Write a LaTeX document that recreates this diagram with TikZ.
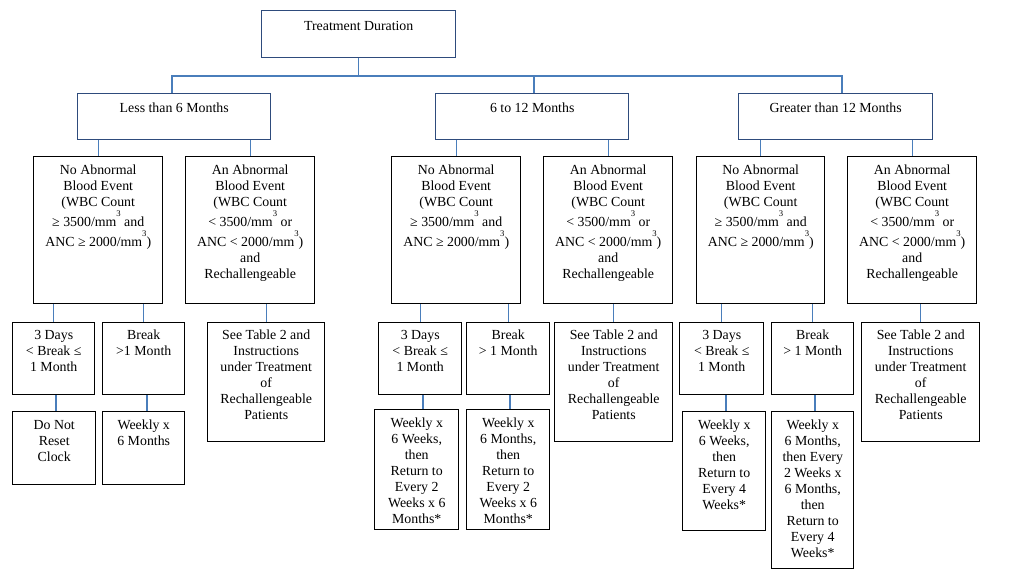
\documentclass[tikz,border=0pt]{standalone}
\usepackage{fontspec}
\setmainfont{Liberation Serif}
\newdimen\pxu \pxu=0.75pt
% box text: [first baseline]{width px}{height px}{text}
\newcommand\bt[4][13.1pt]{\parbox[c][#3\pxu][t]{#2\pxu}{\centering\fontsize{10.4}{12}\selectfont\rule{0pt}{#1}#4\par}}
\newcommand\cube{\smash{\raisebox{7.3pt}{\fontsize{6.5}{6.5}\selectfont 3}}}
\definecolor{navy}{HTML}{2E4B7C}
\definecolor{linkblue}{HTML}{4A7EBB}
\tikzset{
  headbox/.style={draw=navy, line width=1.1pt, inner sep=0pt, anchor=north west},
  leafbox/.style={draw=black, line width=1.1pt, inner sep=0pt, anchor=north west},
  conn/.style={draw=linkblue, line width=1pt}
}
\begin{document}
\begin{tikzpicture}[x=0.75pt,y=-0.75pt]
\useasboundingbox (0,0) rectangle (1015,580);
% level 1 and 2
\node[headbox] (top) at (261,10) {\bt[14.6pt]{194}{47}{Treatment Duration}};
\node[headbox] (L1) at (77,93) {\bt[13.9pt]{193}{46}{Less than 6 Months}};
\node[headbox] (L2) at (435,93) {\bt[13.9pt]{193}{46}{6 to 12 Months}};
\node[headbox] (L3) at (738,93) {\bt[13.9pt]{194}{46}{Greater than 12 Months}};
% level 3
\node[leafbox] (NA1) at (33,156) {\bt{129}{147}{No Abnormal\\Blood Event\\(WBC Count\\[3pt] ≥ 3500/mm\cube{} and\\[3pt] ANC ≥ 2000/mm\cube)}};
\node[leafbox] (AA1) at (185,156) {\bt{129}{147}{An Abnormal\\Blood Event\\(WBC Count\\[3pt] < 3500/mm\cube{} or\\[3pt] ANC < 2000/mm\cube)\\and\\Rechallengeable}};
\node[leafbox] (NA2) at (391,156) {\bt{129}{147}{No Abnormal\\Blood Event\\(WBC Count\\[3pt] ≥ 3500/mm\cube{} and\\[3pt] ANC ≥ 2000/mm\cube)}};
\node[leafbox] (AA2) at (543,156) {\bt{129}{147}{An Abnormal\\Blood Event\\(WBC Count\\[3pt] < 3500/mm\cube{} or\\[3pt] ANC < 2000/mm\cube)\\and\\Rechallengeable}};
\node[leafbox] (NA3) at (696,156) {\bt{128}{147}{No Abnormal\\Blood Event\\(WBC Count\\[3pt] ≥ 3500/mm\cube{} and\\[3pt] ANC ≥ 2000/mm\cube)}};
\node[leafbox] (AA3) at (847,156) {\bt{129}{147}{An Abnormal\\Blood Event\\(WBC Count\\[3pt] < 3500/mm\cube{} or\\[3pt] ANC < 2000/mm\cube)\\and\\Rechallengeable}};
% level 4
\node[leafbox] (D1) at (12,322) {\bt[12.4pt]{82}{72}{3 Days\\< Break ≤\\1 Month}};
\node[leafbox] (B1) at (102,322) {\bt[12.4pt]{82}{72}{Break\\>1 Month}};
\node[leafbox] (S1) at (207,322) {\bt[12.4pt]{117}{119}{See Table 2 and\\Instructions\\under Treatment\\of\\Rechallengeable\\Patients}};
\node[leafbox] (D2) at (378,322) {\bt[12.4pt]{83}{72}{3 Days\\< Break ≤\\1 Month}};
\node[leafbox] (B2) at (466,322) {\bt[12.4pt]{83}{72}{Break\\> 1 Month}};
\node[leafbox] (S2) at (554,322) {\bt[12.4pt]{118}{119}{See Table 2 and\\Instructions\\under Treatment\\of\\Rechallengeable\\Patients}};
\node[leafbox] (D3) at (679,322) {\bt[12.4pt]{84}{72}{3 Days\\< Break ≤\\1 Month}};
\node[leafbox] (B3) at (771,322) {\bt[12.4pt]{82}{72}{Break\\> 1 Month}};
\node[leafbox] (S3) at (861,322) {\bt[12.4pt]{118}{119}{See Table 2 and\\Instructions\\under Treatment\\of\\Rechallengeable\\Patients}};
% level 5
\node[leafbox] (R1a) at (12,411) {\bt{83}{73}{Do Not\\Reset\\Clock}};
\node[leafbox] (R1b) at (102,411) {\bt{82}{73}{Weekly x\\6 Months}};
\node[leafbox] (R2a) at (374,409) {\bt{84}{120}{Weekly x\\6 Weeks,\\then\\Return to\\Every 2\\Weeks x 6\\Months*}};
\node[leafbox] (R2b) at (466,409) {\bt{83}{120}{Weekly x\\6 Months,\\then\\Return to\\Every 2\\Weeks x 6\\Months*}};
\node[leafbox] (R3a) at (682,411) {\bt{83}{119}{Weekly x\\6 Weeks,\\then\\Return to\\Every 4\\Weeks*}};
\node[leafbox] (R3b) at (771,411) {\bt{82}{157}{Weekly x\\6 Months,\\then Every\\2 Weeks x\\6 Months,\\then\\Return to\\Every 4\\Weeks*}};
% connectors level 1 -> 2
\coordinate (hl) at (172,76);
\coordinate (hr) at (842,76);
\draw[conn] (top.south) -- (top.south |- hl);
\draw[conn] (L1.north -| hl) -- (hl) -- (hr) -- (L3.north -| hr);
\draw[conn] (L2.north -| 534,0) -- (534,76);
% level 2 -> 3
\draw[conn] (L1.south -| NA1.north) -- (NA1.north);
\draw[conn] (L1.south -| AA1.north) -- (AA1.north);
\draw[conn] (L2.south -| NA2.north) -- (NA2.north);
\draw[conn] (L2.south -| AA2.north) -- (AA2.north);
\draw[conn] (L3.south -| NA3.north) -- (NA3.north);
\draw[conn] (L3.south -| AA3.north) -- (AA3.north);
% level 3 -> 4
\draw[conn] (NA1.south -| D1.north) -- (D1.north);
\draw[conn] (NA1.south -| B1.north) -- (B1.north);
\draw[conn] (AA1.south -| S1.north) -- (S1.north);
\draw[conn] (NA2.south -| D2.north) -- (D2.north);
\draw[conn] (NA2.south -| B2.north) -- (B2.north);
\draw[conn] (AA2.south -| S2.north) -- (S2.north);
\draw[conn] (NA3.south -| D3.north) -- (D3.north);
\draw[conn] (NA3.south -| B3.north) -- (B3.north);
\draw[conn] (AA3.south -| S3.north) -- (S3.north);
% level 4 -> 5
\draw[conn] (D1.south -| 56,0) -- (R1a.north -| 56,0);
\draw[conn] (B1.south -| 147,0) -- (R1b.north -| 147,0);
\draw[conn] (D2.south -| 423,0) -- (R2a.north -| 423,0);
\draw[conn] (B2.south -| 510,0) -- (R2b.north -| 510,0);
\draw[conn] (D3.south -| 726,0) -- (R3a.north -| 726,0);
\draw[conn] (B3.south -| 815,0) -- (R3b.north -| 815,0);
\end{tikzpicture}
\end{document}
